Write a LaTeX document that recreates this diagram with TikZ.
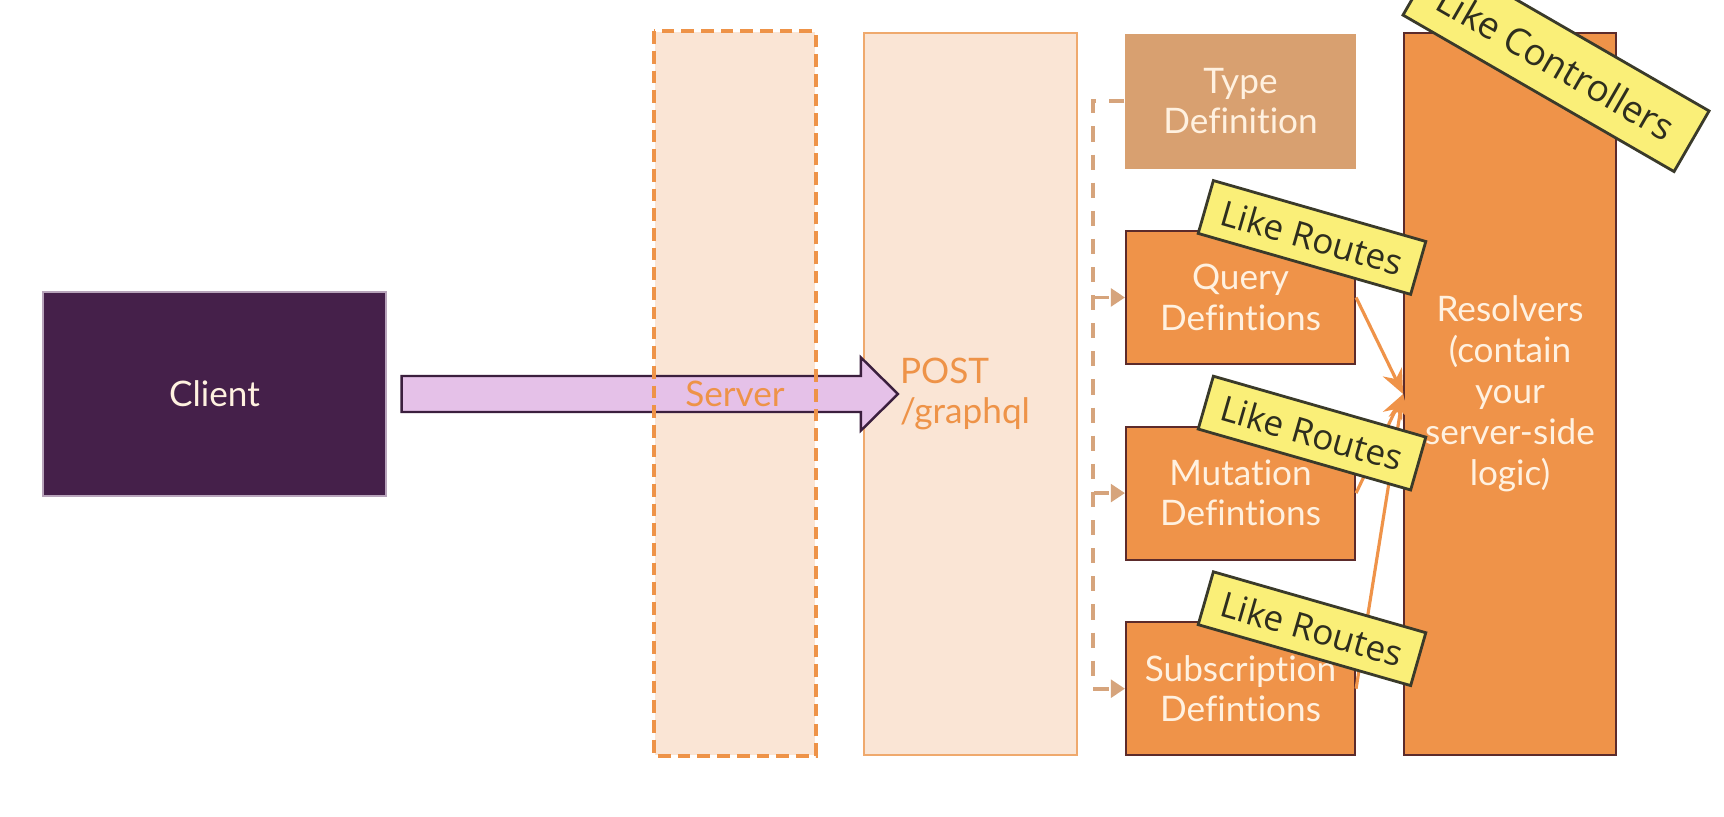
\documentclass[tikz,border=0pt]{standalone}
\usepackage{fontspec}
\setmainfont{Lato}[Ligatures={NoCommon,NoRequired,NoContextual}]
\newfontfamily\notefont{Open Sans}
\usetikzlibrary{calc,arrows.meta,positioning}

\definecolor{clientfill}{HTML}{45204A}
\definecolor{clientline}{HTML}{B8A4BB}
\definecolor{arrowfill}{HTML}{E5C1E8}
\definecolor{arrowline}{HTML}{3B1F3E}
\definecolor{paleorange}{HTML}{FAE5D5}
\definecolor{srvorange}{HTML}{EE9348}
\definecolor{postline}{HTML}{EFA96D}
\definecolor{typefill}{HTML}{D8A070}
\definecolor{defsfill}{HTML}{EF9349}
\definecolor{defsline}{HTML}{5C2B2B}
\definecolor{cream}{HTML}{FFF1E0}
\definecolor{notefill}{HTML}{FAEF78}
\definecolor{noteline}{HTML}{3A3A2A}
\definecolor{notetext}{HTML}{2E2E1E}
\definecolor{bracketcol}{HTML}{D6A47C}

\tikzset{
  txt/.style={font=\fontsize{10}{11.5}\selectfont, align=center, inner sep=0pt},
  clientbox/.style={txt, fill=clientfill, draw=clientline, line width=0.4pt, text=cream,
    minimum width=3.43cm, minimum height=2.04cm},
  serverbg/.style={fill=paleorange, minimum width=1.6cm, minimum height=7.23cm, inner sep=0pt},
  serverframe/.style={draw=srvorange, line width=1.1pt, dash pattern=on 3.6pt off 2pt},
  servertext/.style={txt, text=srvorange},
  postbox/.style={txt, fill=paleorange, draw=postline, line width=0.6pt, text=srvorange,
    align=left, text width=1.41cm, inner xsep=0.36cm, minimum height=7.22cm},
  bigarrow/.style={fill=arrowfill, draw=arrowline, line width=0.7pt, line join=miter},
  typebox/.style={txt, fill=typefill, text=cream, minimum width=2.31cm, minimum height=1.35cm},
  defbox/.style={txt, fill=defsfill, draw=defsline, line width=0.6pt, text=cream,
    minimum width=2.29cm, minimum height=1.33cm},
  resbox/.style={txt, fill=defsfill, draw=defsline, line width=0.5pt, text=cream,
    minimum width=2.12cm, minimum height=7.22cm, font=\fontsize{10}{11.7}\selectfont},
  bracket/.style={draw=bracketcol, line width=1.1pt, dash pattern=on 4.3pt off 3.7pt},
  feed/.style={draw=defsfill, line width=0.9pt, -{Stealth[length=7pt,width=6pt]}},
  note/.style={fill=notefill, draw=noteline, line width=0.8pt, text=notetext,
    font=\notefont\fontsize{10}{12}\selectfont, inner sep=0pt, rotate=-16,
    minimum width=2.21cm, minimum height=0.55cm},
  bignote/.style={fill=notefill, draw=noteline, line width=0.8pt, text=notetext,
    font=\notefont\fontsize{10.5}{12}\selectfont, inner sep=0pt, rotate=-30,
    minimum width=3.13cm, minimum height=0.70cm}
}

\begin{document}
\begin{tikzpicture}
\clip (0,0) rectangle (17.24,8.16);
\fill[white] (0,0) rectangle (17.24,8.16);

% Server and endpoint
\node[serverbg] (server) at (7.35,4.225) {};
\node[postbox] (post) at (9.705,4.22) {POST\\/graphql};

% Client
\node[clientbox] (client) at (2.145,4.22) {Client};

% Request arrow
\coordinate (tip) at ($(post.west)+(0.35,0)$);
\filldraw[bigarrow] ($(client.east)+(0.15,0.18)$) -- ($(tip)+(-0.37,0.18)$)
  -- ($(tip)+(-0.37,0.365)$) -- (tip) -- ($(tip)+(-0.37,-0.365)$)
  -- ($(tip)+(-0.37,-0.18)$) -- ($(client.east)+(0.15,-0.18)$) -- cycle;

% Server frame over the arrow
\draw[serverframe] (server.north west) rectangle (server.south east);
\node[servertext] (serverlabel) at (server.center) {Server};

% Schema parts
\node[typebox, anchor=north] (typedef) at (12.405,7.83) {Type\\Definition};
\node[defbox, below=0.605cm of typedef] (query) {Query\\Defintions};
\node[defbox, below=0.605cm of query] (mutation) {Mutation\\Defintions};
\node[defbox, below=0.605cm of mutation] (subscription) {Subscription\\Defintions};

% Resolvers
\node[resbox] (resolvers) at (15.10,4.22) {Resolvers\\(contain\\your\\server-side\\logic)};

% Bracket
\draw[bracket, -{Triangle[length=4pt,width=5pt]}] (typedef.west) -- ++(-0.31,0) |- (subscription.west);
\draw[bracket, -{Triangle[length=4pt,width=5pt]}] ($(query.west)+(-0.31,0)$) -- (query.west);
\draw[bracket, -{Triangle[length=4pt,width=5pt]}] ($(mutation.west)+(-0.31,0)$) -- (mutation.west);

% Feeds into resolvers
\draw[feed] (query.east) -- (resolvers.west);
\draw[feed] (mutation.east) -- (resolvers.west);
\draw[feed] (subscription.east) -- (resolvers.west);

% Notes
\node[note] (qnote) at ($(query.center)+(0.715,0.60)$) {Like Routes};
\node[note] (mnote) at ($(mutation.center)+(0.715,0.60)$) {Like Routes};
\node[note] (snote) at ($(subscription.center)+(0.715,0.60)$) {Like Routes};
\node[bignote] (rnote) at (15.56,7.53) {Like Controllers};
\end{tikzpicture}
\end{document}
